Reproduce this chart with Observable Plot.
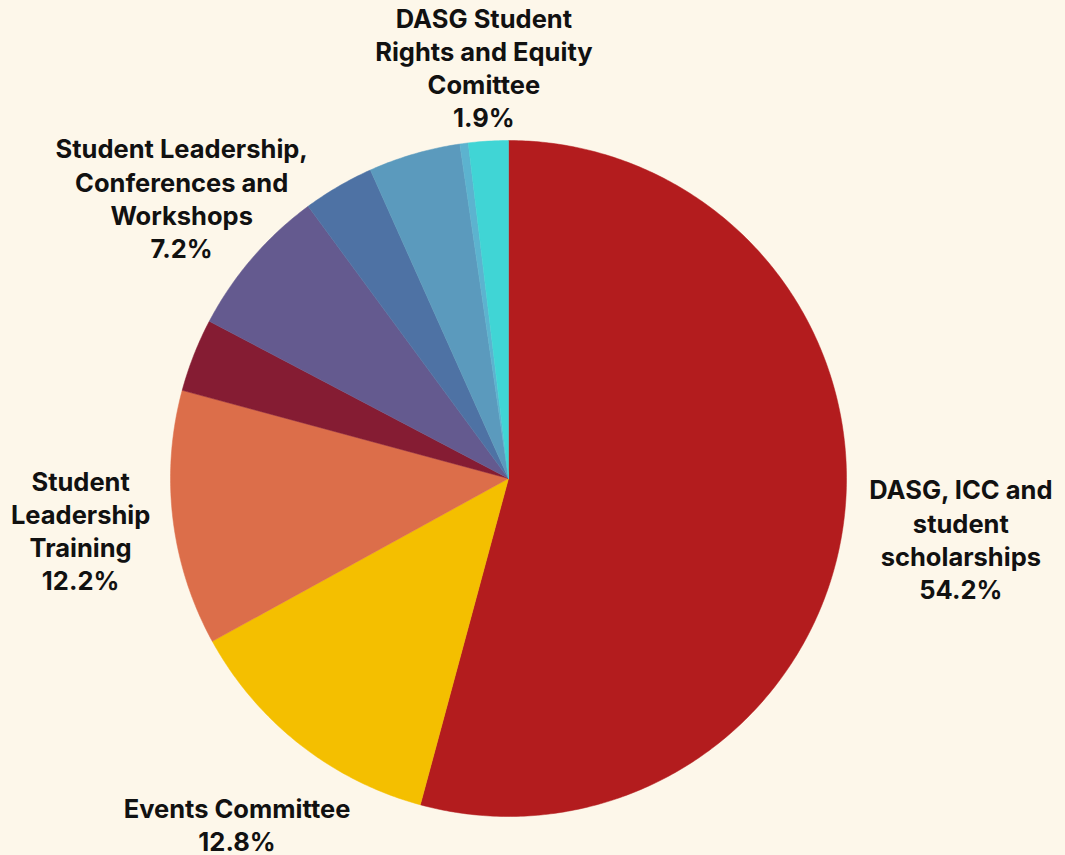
<!DOCTYPE html>
<html><head><meta charset="utf-8">
<script src="https://cdn.jsdelivr.net/npm/d3@7"></script>
<script src="https://cdn.jsdelivr.net/npm/@observablehq/plot@0.6"></script>
<style>
html,body{margin:0;padding:0;background:#fdf7ea;}
#chart svg{display:block;}
</style></head>
<body><div id="chart"></div>
<script>
// Data (clockwise from 12 o'clock)
const categories = [
  "DASG, ICC and student scholarships",
  "Events Committee",
  "Student Leadership Training",
  "Other A",
  "Student Leadership, Conferences and Workshops",
  "Other B",
  "Other C",
  "Other D",
  "DASG Student Rights and Equity Comittee"
];
const shares = [54.2, 12.8, 12.2, 3.5, 7.2, 3.4, 4.4, 0.4, 1.9];
const labelTexts = [
  "DASG, ICC and\nstudent\nscholarships\n54.2%",
  "Events Committee\n12.8%",
  "Student\nLeadership\nTraining\n12.2%",
  "",
  "Student Leadership,\nConferences and\nWorkshops\n7.2%",
  "",
  "",
  "",
  "DASG Student\nRights and Equity\nComittee\n1.9%"
];
const colors = ["#b31c1e","#f4bf00","#dc6e4a","#851c33","#645a8f","#4e72a4","#5b9abd","#5cb3cf","#40d5d5"];

// layout parameters
const W = 1065, H = 855, cx = 508, cy = 478, R = 338;
const labelRadius = [1.35, 1.30, 1.275, 1, 1.275, 1, 1, 1, 1.22];

const total = d3.sum(shares);
const pts = [];
const labels = [];
let acc = 0;
shares.forEach((v, i) => {
  const a0 = acc / total * 2 * Math.PI;
  acc += v;
  const a1 = acc / total * 2 * Math.PI;
  const n = Math.max(2, Math.ceil((a1 - a0) / 0.01));
  pts.push({name: categories[i], x: 0, y: 0});
  for (let k = 0; k <= n; k++) {
    const a = a0 + (a1 - a0) * k / n;
    pts.push({name: categories[i], x: Math.sin(a), y: Math.cos(a)});
  }
  pts.push({name: categories[i], x: 0, y: 0});
  if (labelTexts[i]) {
    const am = (a0 + a1) / 2, lr = labelRadius[i];
    labels.push({text: labelTexts[i], x: lr * Math.sin(am), y: lr * Math.cos(am)});
  }
});

const chart = Plot.plot({
  width: W, height: H,
  margin: 0,
  style: {background: "#fdf7ea"},
  x: {domain: [-cx / R, (W - cx) / R], axis: null},
  y: {domain: [-(H - cy) / R, cy / R], axis: null},
  color: {domain: categories, range: colors},
  marks: [
    Plot.line(pts, {x: "x", y: "y", z: "name", fill: "name", stroke: "name", strokeWidth: 0.5, curve: "linear"}),
    Plot.text(labels, {x: "x", y: "y", text: "text", fontSize: 25.5, fontWeight: 700,
      fontFamily: "Inter, 'Noto Sans', sans-serif", fill: "#111", lineHeight: 1.3,
      textAnchor: "middle", lineAnchor: "middle"})
  ]
});
document.getElementById("chart").appendChild(chart);
</script></body></html>
